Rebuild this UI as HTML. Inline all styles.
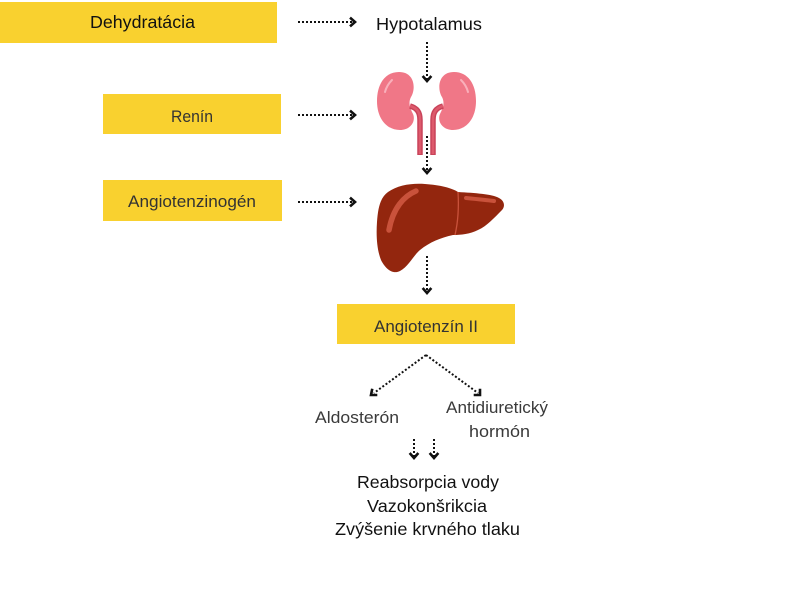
<!DOCTYPE html>
<html><head><meta charset="utf-8"><style>
html,body{margin:0;padding:0;background:#fff;}
svg{display:block;}
text{font-family:"Liberation Sans",sans-serif;}
</style></head><body>
<svg width="800" height="599" viewBox="0 0 800 599" xmlns="http://www.w3.org/2000/svg">
<rect width="800" height="599" fill="#fff"/>
<!-- yellow boxes -->
<rect x="0" y="2" width="277" height="41" fill="#F9D12F"/>
<rect x="103" y="94" width="178" height="40" fill="#F9D12F"/>
<rect x="103" y="180" width="179" height="41" fill="#F9D12F"/>
<rect x="337" y="304" width="178" height="40" fill="#F9D12F"/>

<!-- box texts -->
<text x="90" y="28" font-size="17.5" fill="#111" textLength="105" lengthAdjust="spacingAndGlyphs">Dehydratácia</text>
<text x="171" y="122" font-size="17" fill="#333" textLength="42" lengthAdjust="spacingAndGlyphs">Renín</text>
<text x="128" y="207" font-size="17" fill="#333" textLength="128" lengthAdjust="spacingAndGlyphs">Angiotenzinogén</text>
<text x="374" y="332" font-size="17" fill="#333" textLength="104" lengthAdjust="spacingAndGlyphs">Angiotenzín II</text>

<text x="376" y="30" font-size="17.5" fill="#111" textLength="106" lengthAdjust="spacingAndGlyphs">Hypotalamus</text>

<text x="315" y="423" font-size="17" fill="#3a3a3a" textLength="84" lengthAdjust="spacingAndGlyphs">Aldosterón</text>
<text x="446" y="413" font-size="17" fill="#3a3a3a" textLength="102" lengthAdjust="spacingAndGlyphs">Antidiuretický</text>
<text x="469" y="437" font-size="17" fill="#3a3a3a" textLength="61" lengthAdjust="spacingAndGlyphs">hormón</text>

<text x="357" y="488" font-size="17.5" fill="#111" textLength="142" lengthAdjust="spacingAndGlyphs">Reabsorpcia vody</text>
<text x="367" y="512" font-size="17.5" fill="#111" textLength="120" lengthAdjust="spacingAndGlyphs">Vazokonšrikcia</text>
<text x="335" y="535" font-size="17.5" fill="#111" textLength="185" lengthAdjust="spacingAndGlyphs">Zvýšenie krvného tlaku</text>

<!-- kidneys -->
<g>
<path d="M399,72 C385,72 377,84 377,101 C377,119 387,130 400,130 C411,130 416,121 413,114 C410,108 408,103 411,97 C416,89 415,72 399,72 Z" fill="#F07787"/>
<path d="M454,72 C468,72 476,84 476,101 C476,119 466,130 453,130 C442,130 437,121 440,114 C443,108 445,103 442,97 C437,89 438,72 454,72 Z" fill="#F07787"/>
<path d="M392,80 C388,84 386,88 385,92" stroke="#F9B0BB" stroke-width="2" fill="none" stroke-linecap="round"/>
<path d="M461,80 C465,84 467,88 468,92" stroke="#F9B0BB" stroke-width="2" fill="none" stroke-linecap="round"/>
<path d="M410,106 C417,108 420,112 420,120 L420,155" stroke="#C9435A" stroke-width="5.5" fill="none"/>
<path d="M443,106 C436,108 433,112 433,120 L433,155" stroke="#C9435A" stroke-width="5.5" fill="none"/>
<path d="M410,106 C417,108 420,112 420,120 L420,154" stroke="#DD5A6C" stroke-width="2.5" fill="none"/>
<path d="M443,106 C436,108 433,112 433,120 L433,154" stroke="#DD5A6C" stroke-width="2.5" fill="none"/>
</g>

<!-- liver -->
<g>
<path d="M388,192 C398,185 412,183 425,184 C440,185 452,188 458,192 C475,193 492,194 499,198 C505,201 505,207 502,210 C494,218 487,226 478,230 C470,234 461,235 453,235 C440,238 430,242 420,250 C413,256 409,266 400,271 C392,275 385,268 381,260 C377,250 376,236 377,222 C378,208 380,198 388,192 Z" fill="#93260E"/>
<path d="M416,191 C404,196 393,208 389,230" stroke="#C9523B" stroke-width="5.5" fill="none" stroke-linecap="round"/>
<path d="M466,198 C476,199 486,200 494,201" stroke="#C9523B" stroke-width="4" fill="none" stroke-linecap="round"/>
<path d="M458,192 C459,208 458,222 455,235" stroke="#C9523B" stroke-width="1.3" fill="none"/>
</g>

<!-- dotted arrows -->
<g stroke="#111" stroke-width="2" fill="none" stroke-dasharray="2 2">
<line x1="298" y1="22" x2="353" y2="22"/>
<line x1="298" y1="115" x2="353" y2="115"/>
<line x1="298" y1="202" x2="353" y2="202"/>
<line x1="427" y1="42" x2="427" y2="79"/>
<line x1="427" y1="136" x2="427" y2="171"/>
<line x1="427" y1="256" x2="427" y2="291"/>
<line x1="426" y1="355" x2="374" y2="393"/>
<line x1="426" y1="355" x2="478" y2="393"/>
<line x1="414" y1="439" x2="414" y2="456"/>
<line x1="434" y1="439" x2="434" y2="456"/>
</g>
<g stroke="#111" stroke-width="2.6" fill="none" stroke-linecap="square">
<polyline points="351,18.5 355,22 351,25.5"/>
<polyline points="351,111.5 355,115 351,118.5"/>
<polyline points="351,198.5 355,202 351,205.5"/>
<polyline points="423.5,77 427,81 430.5,77"/>
<polyline points="423.5,169 427,173 430.5,169"/>
<polyline points="423.5,289 427,293 430.5,289"/>
<polyline points="372,390 371,395 376,395"/>
<polyline points="480,390 480,395 475,395"/>
<polyline points="410.5,454 414,458 417.5,454"/>
<polyline points="430.5,454 434,458 437.5,454"/>
</g>
</svg>
</body></html>
